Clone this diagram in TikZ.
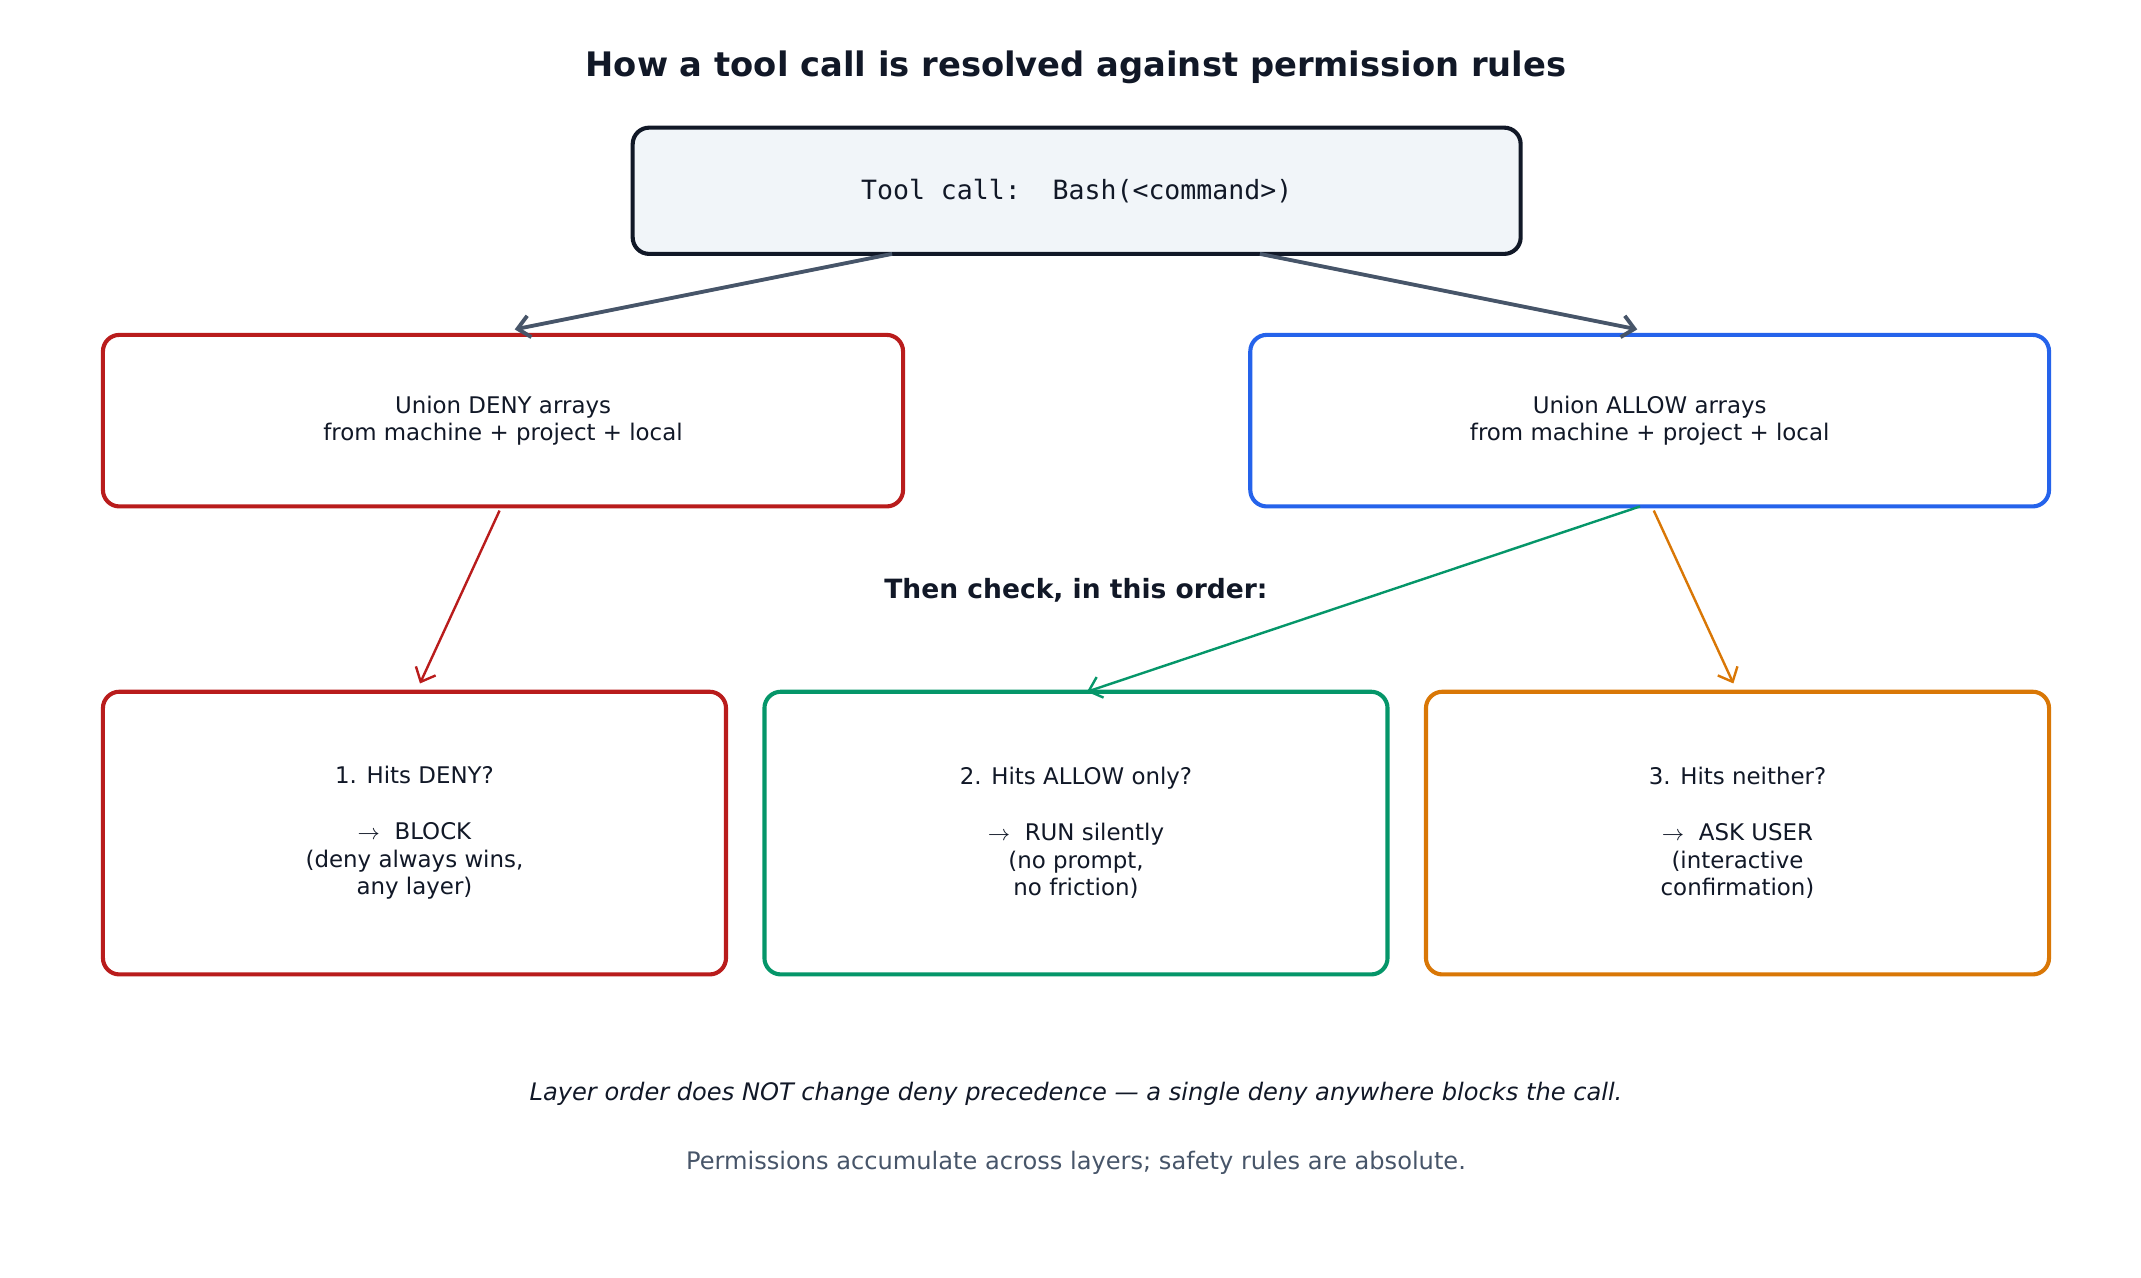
\documentclass[tikz,border=0pt]{standalone}
\usepackage{fontspec}
\setmainfont{DejaVu Sans}
\setmonofont{DejaVu Sans Mono}
\usetikzlibrary{arrows.meta}
\definecolor{ink}{HTML}{111827}
\definecolor{cred}{HTML}{B91C1C}
\definecolor{cblue}{HTML}{2563EB}
\definecolor{cgreen}{HTML}{059669}
\definecolor{corange}{HTML}{D97706}
\definecolor{cgray}{HTML}{475569}
\definecolor{cfill}{HTML}{F1F5F9}
\begin{document}
\begin{tikzpicture}[x=0.02cm,y=-0.02cm,
  box/.style={draw,line width=1.7pt,rounded corners=0.24cm,fill=white,align=center,inner sep=0pt,font=\fontsize{9.5}{11.5}\selectfont,text=ink},
  arr/.style={-{Straight Barb[length=5pt,width=9pt]},line width=1pt}]
\useasboundingbox (0,0) rectangle (1560,931);
\node[font=\fontsize{14}{17}\selectfont\bfseries,text=ink] (title) at (784,49) {How a tool call is resolved against permission rules};
\node[box,draw=ink,fill=cfill,minimum width=647*0.02cm,minimum height=92*0.02cm,font=\ttfamily\fontsize{11}{13}\selectfont] (tool) at (784.5,139) {Tool call:\ \ Bash(<command>)};
\node[box,draw=cred,minimum width=583*0.02cm,minimum height=125*0.02cm] (deny) at (366.5,306.5) {Union DENY arrays\\from machine + project + local};
\node[box,draw=cblue,minimum width=582*0.02cm,minimum height=125*0.02cm] (allow) at (1202,306.5) {Union ALLOW arrays\\from machine + project + local};
\node[box,draw=cred,minimum width=454*0.02cm,minimum height=206*0.02cm] (b1) at (302,607) {1. Hits DENY?\\[11.5pt]$\rightarrow$\ \ BLOCK\\(deny always wins,\\any layer)};
\node[box,draw=cgreen,minimum width=454*0.02cm,minimum height=206*0.02cm] (b2) at (784,607) {2. Hits ALLOW only?\\[11.5pt]$\rightarrow$\ \ RUN silently\\(no prompt,\\no friction)};
\node[box,draw=corange,minimum width=454*0.02cm,minimum height=206*0.02cm] (b3) at (1266,607) {3. Hits neither?\\[11.5pt]$\rightarrow$\ \ ASK USER\\(interactive\\confirmation)};
\node[font=\fontsize{11}{13}\selectfont\bfseries,text=ink] (then) at (784,430) {Then check, in this order:};
\node[font=\fontsize{10}{12}\selectfont\itshape,text=ink] (foot1) at (784,797) {Layer order does NOT change deny precedence — a single deny anywhere blocks the call.};
\node[font=\fontsize{10}{12}\selectfont,text=cgray] (foot2) at (784,847) {Permissions accumulate across layers; safety rules are absolute.};
\coordinate (t1) at (650,185); \coordinate (t2) at (918,185);
\coordinate (d1) at (375,240); \coordinate (a1) at (1193,240);
\draw[arr,cgray,line width=1.6pt] (t1) -- (d1);
\draw[arr,cgray,line width=1.6pt] (t2) -- (a1);
\coordinate (ds) at (364,372); \coordinate (de) at (306,498);
\coordinate (gs) at (1195,369); \coordinate (ge) at (792,504);
\coordinate (os) at (1205,372); \coordinate (oe) at (1263,498);
\draw[arr,cred] (ds) -- (de);
\draw[arr,cgreen] (gs) -- (ge);
\draw[arr,corange] (os) -- (oe);
\end{tikzpicture}
\end{document}
